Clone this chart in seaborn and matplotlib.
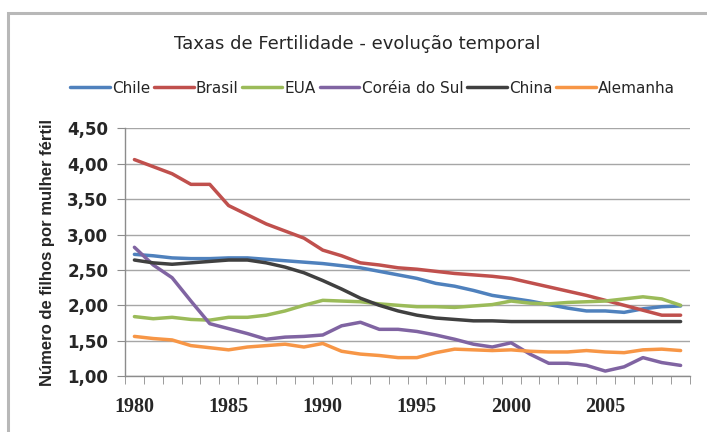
import pandas as pd
import numpy as np
import matplotlib.pyplot as plt
import seaborn as sns
from matplotlib.ticker import FuncFormatter, MultipleLocator
from matplotlib.patches import Rectangle

anos = list(range(1980, 2010))

chile = [2.72, 2.70, 2.67, 2.66, 2.66, 2.67, 2.67, 2.65, 2.63, 2.61,
         2.59, 2.56, 2.53, 2.48, 2.43, 2.38, 2.31, 2.27, 2.21, 2.14,
         2.10, 2.06, 2.01, 1.96, 1.92, 1.92, 1.90, 1.95, 1.98, 1.99]
brasil = [4.06, 3.96, 3.86, 3.71, 3.71, 3.41, 3.28, 3.15, 3.05, 2.95,
          2.78, 2.70, 2.60, 2.57, 2.53, 2.51, 2.48, 2.45, 2.43, 2.41,
          2.38, 2.32, 2.26, 2.20, 2.14, 2.07, 2.00, 1.93, 1.86, 1.86]
eua = [1.84, 1.81, 1.83, 1.80, 1.79, 1.83, 1.83, 1.86, 1.92, 2.00,
       2.07, 2.06, 2.05, 2.02, 2.00, 1.98, 1.98, 1.97, 1.99, 2.01,
       2.06, 2.03, 2.02, 2.04, 2.05, 2.06, 2.09, 2.12, 2.09, 2.00]
coreia = [2.82, 2.57, 2.39, 2.06, 1.74, 1.67, 1.60, 1.52, 1.55, 1.56,
          1.58, 1.71, 1.76, 1.66, 1.66, 1.63, 1.58, 1.52, 1.45, 1.41,
          1.47, 1.31, 1.18, 1.18, 1.15, 1.07, 1.13, 1.26, 1.19, 1.15]
china = [2.64, 2.60, 2.58, 2.60, 2.62, 2.64, 2.64, 2.60, 2.54, 2.46,
         2.35, 2.23, 2.10, 2.00, 1.92, 1.86, 1.82, 1.80, 1.78, 1.78,
         1.77, 1.77, 1.77, 1.77, 1.77, 1.77, 1.77, 1.77, 1.77, 1.77]
alemanha = [1.56, 1.53, 1.51, 1.43, 1.40, 1.37, 1.41, 1.43, 1.45, 1.41,
            1.46, 1.35, 1.31, 1.29, 1.26, 1.26, 1.33, 1.38, 1.37, 1.36,
            1.37, 1.35, 1.34, 1.34, 1.36, 1.34, 1.33, 1.37, 1.38, 1.36]

paises = ["Chile", "Brasil", "EUA", "Coréia do Sul", "China", "Alemanha"]
cores = ["#4F81BD", "#C0504D", "#9BBB59", "#8064A2", "#404040", "#F79646"]

# monta o dataframe no formato longo
series = [chile, brasil, eua, coreia, china, alemanha]
df = pd.DataFrame({
    "Ano": anos * len(paises),
    "Taxa": sum(series, []),
    "País": [p for p in paises for _ in anos],
})

sns.set_style("white")
plt.rcParams['font.family'] = ['DejaVu Sans']

fig = plt.figure(figsize=(7.07, 4.32), dpi=100)
ax = fig.add_axes([0.1768, 0.1296, 0.7992, 0.573])

# moldura cinza do gráfico
fig.patches.append(Rectangle((8 / 707, -0.1), 1.2, 1 - 13 / 432 + 0.1,
                             transform=fig.transFigure, fill=False,
                             edgecolor="#b8b8b8", linewidth=2.2, zorder=0))

sns.lineplot(data=df, x="Ano", y="Taxa", hue="País", hue_order=paises,
             palette=cores, linewidth=2.5, ax=ax, legend=True)

ax.set_xlim(1979.5, 2009.5)
ax.set_ylim(1.0, 4.5)
ax.set_xticks(range(1980, 2010, 5))
ax.set_xticks(np.arange(1979.5, 2010, 1), minor=True)
ax.yaxis.set_major_locator(MultipleLocator(0.5))
ax.yaxis.set_major_formatter(FuncFormatter(lambda v, p: f"{v:.2f}".replace(".", ",")))

ax.grid(axis="y", color="#a6a6a6", linewidth=1)
ax.set_axisbelow(True)
for s in ["top", "right"]:
    ax.spines[s].set_visible(False)
for s in ["left", "bottom"]:
    ax.spines[s].set_color("#8c8c8c")
    ax.spines[s].set_linewidth(1)

ax.tick_params(axis="x", which="major", length=0, pad=15)
ax.tick_params(axis="x", which="minor", length=6, color="#8c8c8c", direction="out", bottom=True)
ax.tick_params(axis="y", length=6, color="#8c8c8c", direction="out", left=True, pad=6)
for t in ax.get_xticklabels():
    t.set_family(["Liberation Serif", "DejaVu Serif"])
    t.set_fontweight("bold")
    t.set_fontsize(14.5)
for t in ax.get_yticklabels():
    t.set_fontweight("bold")
    t.set_fontsize(12)

ax.set_xlabel("")
ax.set_ylabel("Número de filhos por mulher fértil", fontsize=12,
              fontweight="bold", family=["Liberation Sans", "DejaVu Sans"], labelpad=9)

fig.text(0.505, 0.898, "Taxas de Fertilidade - evolução temporal",
         ha="center", va="center", fontsize=13)

handles, labels = ax.get_legend_handles_labels()
for h in handles:
    h.set_linewidth(2.5)
ax.legend(handles, labels, loc="center", bbox_to_anchor=(0.527, 0.796),
          bbox_transform=fig.transFigure, ncol=6, frameon=False,
          fontsize=11, handlelength=2.6, handletextpad=0.15,
          columnspacing=0.25, borderaxespad=0)

fig.savefig("out.png", dpi=100)
